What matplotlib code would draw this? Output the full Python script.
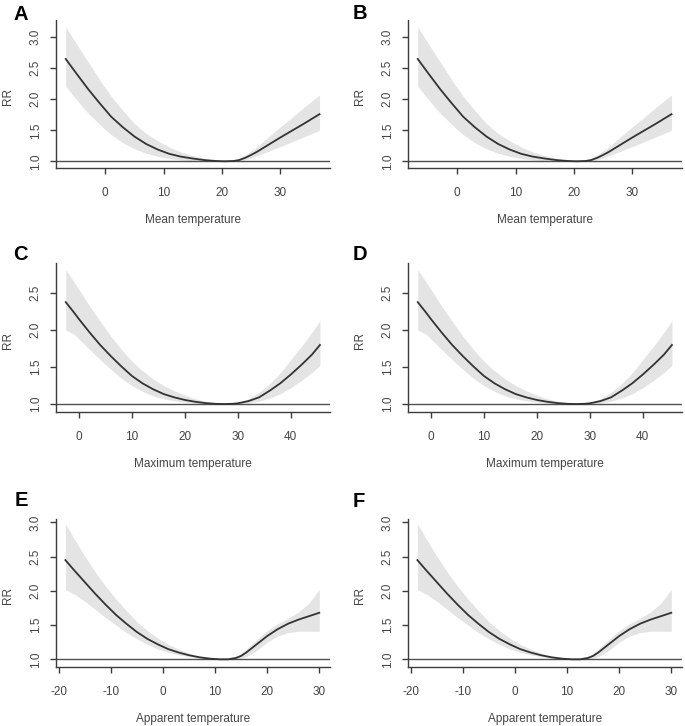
import matplotlib
matplotlib.use("Agg")
import matplotlib.pyplot as plt

plt.rcParams['font.family'] = ['Liberation Sans', 'DejaVu Sans']

# ---- data: Mean temperature (panels A, B) ----
mean_x = [-6.8, -5, -3, -1, 0, 1, 3, 5, 7, 9, 11, 13, 15, 17, 19, 20.5, 22, 23, 24, 25, 26, 28, 30, 32, 34, 36.8]
mean_rr = [2.65, 2.42, 2.17, 1.94, 1.83, 1.72, 1.55, 1.40, 1.28, 1.19, 1.12, 1.075, 1.045, 1.02, 1.005, 1.0,
           1.005, 1.02, 1.055, 1.10, 1.15, 1.265, 1.38, 1.49, 1.60, 1.76]
mean_hi = [3.17, 2.90, 2.61, 2.32, 2.18, 2.05, 1.82, 1.61, 1.45, 1.33, 1.23, 1.15, 1.09, 1.045, 1.012, 1.0,
           1.015, 1.05, 1.10, 1.16, 1.23, 1.39, 1.55, 1.70, 1.86, 2.07]
mean_lo = [2.21, 2.00, 1.78, 1.60, 1.51, 1.43, 1.30, 1.20, 1.13, 1.08, 1.045, 1.02, 1.008, 1.0, 1.0, 1.0,
           0.998, 1.0, 1.025, 1.05, 1.085, 1.16, 1.235, 1.31, 1.39, 1.50]

# ---- data: Maximum temperature (panels C, D) ----
max_x = [-2.5, -1, 0, 2, 4, 6, 8, 10, 12, 14, 16, 18, 20, 22, 24, 26, 27.5, 29, 30, 32, 34, 36, 38, 40, 42, 44, 45.5]
max_rr = [2.38, 2.245, 2.15, 1.97, 1.80, 1.65, 1.51, 1.38, 1.28, 1.20, 1.135, 1.09, 1.055, 1.03, 1.012, 1.002, 1.0,
          1.003, 1.01, 1.04, 1.09, 1.18, 1.28, 1.40, 1.53, 1.67, 1.80]
max_hi = [2.82, 2.66, 2.55, 2.33, 2.12, 1.92, 1.74, 1.58, 1.45, 1.34, 1.25, 1.18, 1.12, 1.07, 1.035, 1.01, 1.0,
          1.005, 1.02, 1.07, 1.16, 1.27, 1.42, 1.60, 1.78, 1.97, 2.13]
max_lo = [2.00, 1.95, 1.88, 1.74, 1.60, 1.47, 1.35, 1.25, 1.17, 1.11, 1.07, 1.045, 1.025, 1.012, 1.004, 1.0, 1.0,
          1.0, 1.003, 1.015, 1.04, 1.08, 1.14, 1.22, 1.32, 1.43, 1.52]

# ---- data: Apparent temperature (panels E, F) ----
app_x = [-18.7, -17, -15, -13, -11, -9, -7, -5, -3, -1, 1, 3, 5, 7, 9, 11, 12.5, 14, 15, 16, 17, 18, 20, 22, 24, 26, 28, 30]
app_rr = [2.45, 2.30, 2.13, 1.96, 1.80, 1.65, 1.52, 1.40, 1.30, 1.22, 1.15, 1.10, 1.06, 1.03, 1.01, 1.0, 1.0,
          1.02, 1.05, 1.10, 1.16, 1.22, 1.34, 1.44, 1.52, 1.58, 1.63, 1.68]
app_hi = [2.98, 2.76, 2.51, 2.28, 2.07, 1.88, 1.71, 1.55, 1.42, 1.31, 1.22, 1.15, 1.09, 1.05, 1.02, 1.0, 1.0,
          1.04, 1.09, 1.15, 1.22, 1.29, 1.42, 1.52, 1.60, 1.69, 1.82, 2.02]
app_lo = [2.02, 1.95, 1.85, 1.73, 1.61, 1.50, 1.39, 1.30, 1.22, 1.15, 1.10, 1.065, 1.04, 1.02, 1.005, 1.0, 1.0,
          1.005, 1.02, 1.04, 1.08, 1.13, 1.25, 1.34, 1.39, 1.41, 1.41, 1.41]

mean_xticks = [0, 10, 20, 30]
max_xticks = [0, 10, 20, 30, 40]
app_xticks = [-20, -10, 0, 10, 20, 30]
yticks_3 = [1.0, 1.5, 2.0, 2.5, 3.0]
yticks_25 = [1.0, 1.5, 2.0, 2.5]

W, H = 685, 726
fig = plt.figure(figsize=(W / 100, H / 100), dpi=100)

def px_axes(left, top, right, bottom):
    return fig.add_axes([left / W, 1 - bottom / H, (right - left) / W, (bottom - top) / H])

panels = [
    ("A", (13, 20), (56, 20, 330, 168), (mean_x, mean_rr, mean_lo, mean_hi), (-8.47, 38.6), (0.892, 3.278), mean_xticks, yticks_3, "Mean temperature"),
    ("B", (353, 19), (408, 20, 682, 168), (mean_x, mean_rr, mean_lo, mean_hi), (-8.47, 38.6), (0.892, 3.278), mean_xticks, yticks_3, "Mean temperature"),
    ("C", (13, 260), (56, 263, 330, 412), (max_x, max_rr, max_lo, max_hi), (-4.34, 47.4), (0.892, 2.91), max_xticks, yticks_25, "Maximum temperature"),
    ("D", (353, 260), (408, 263, 682, 412), (max_x, max_rr, max_lo, max_hi), (-4.34, 47.4), (0.892, 2.91), max_xticks, yticks_25, "Maximum temperature"),
    ("E", (15, 506), (56, 519, 330, 667), (app_x, app_rr, app_lo, app_hi), (-20.5, 32.05), (0.888, 3.05), app_xticks, yticks_3, "Apparent temperature"),
    ("F", (353, 507), (408, 519, 682, 667), (app_x, app_rr, app_lo, app_hi), (-20.5, 32.05), (0.888, 3.05), app_xticks, yticks_3, "Apparent temperature"),
]

axis_col = '#3c3c3c'
text_col = '#444444'

for letter, (lx, ly), box, (x, rr, lo, hi), xl, yl, xt, yt, xlab in panels:
    ax = px_axes(*box)
    ax.fill_between(x, lo, hi, color='#e4e4e4', linewidth=0, zorder=1)
    ax.axhline(1.0, color='#505050', lw=1.0, zorder=2)
    ax.plot(x, rr, color='#333333', lw=1.3, zorder=3)
    ax.set_xlim(*xl)
    ax.set_ylim(*yl)
    for s in ('top', 'right'):
        ax.spines[s].set_visible(False)
    for s in ('left', 'bottom'):
        ax.spines[s].set_color(axis_col)
        ax.spines[s].set_linewidth(1.0)
    ax.set_xticks(xt)
    ax.set_xticklabels([str(v) for v in xt])
    ax.set_yticks(yt)
    ax.set_yticklabels([f"{v:.1f}" for v in yt], rotation=90, va='center')
    ax.tick_params(axis='both', direction='out', length=4.3, width=1.0, color=axis_col,
                   labelsize=8.5, labelcolor=text_col)
    ax.tick_params(axis='x', pad=9.5)
    ax.tick_params(axis='y', pad=6)
    ax.text(-47.5 / 274, 0.48, "RR", rotation=90, ha='center', va='center',
            fontsize=8.5, color=text_col, transform=ax.transAxes)
    ax.text(0.5, -52 / 148, xlab, ha='center', va='center',
            fontsize=8.5, color=text_col, transform=ax.transAxes)
    fig.text(lx / W, 1 - ly / H, letter, ha='left', va='baseline',
             fontsize=14.5, fontweight='bold', color='black')

fig.savefig("out.png", dpi=100, facecolor='white')
